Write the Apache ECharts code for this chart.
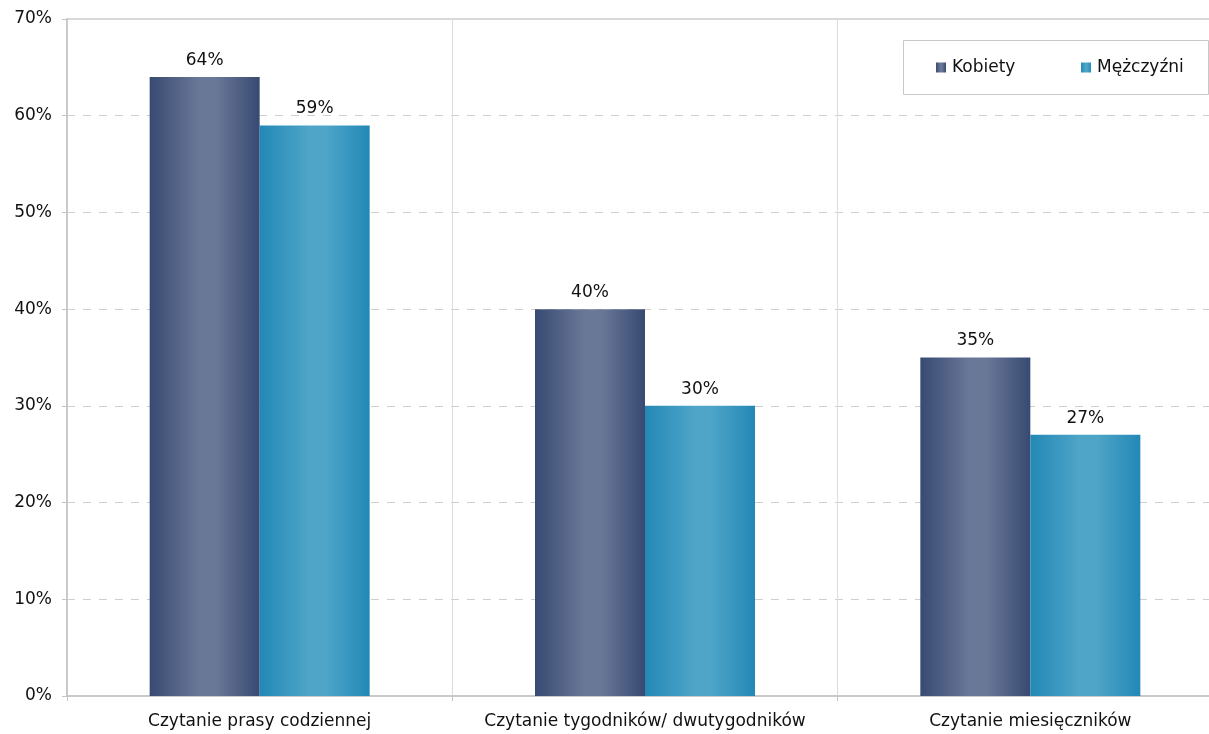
<!DOCTYPE html>
<html>
<head>
<meta charset="utf-8">
<script src="https://cdn.jsdelivr.net/npm/echarts@6/dist/echarts.min.js"></script>
<style>
    html, body { margin: 0; padding: 0; background: #fff; overflow: hidden; }
    #chart { width: 1223px; height: 734px; }
</style>
</head>
<body>
<div id="chart"></div>
<script>
// 数据
const categories = ['Czytanie prasy codziennej', 'Czytanie tygodników/ dwutygodników', 'Czytanie miesięczników'];
const seriesNames = ['Kobiety', 'Mężczyźni'];
const kobiety = [64, 40, 35];
const mezczyzni = [59, 30, 27];
const yTicks = [0, 10, 20, 30, 40, 50, 60, 70];

// 圆柱效果的横向渐变
function barGradient(edge, center) {
    return new echarts.graphic.LinearGradient(0, 0, 1, 0, [
        { offset: 0, color: edge },
        { offset: 0.45, color: center },
        { offset: 0.6, color: center },
        { offset: 1, color: edge }
    ]);
}

document.addEventListener('DOMContentLoaded', function () {
    const chartDom = document.getElementById('chart');
    const myChart = echarts.init(chartDom);
    const font = 'DejaVu Sans, Verdana, sans-serif';
    const fs = 17;

    const labelStyle = {
        show: true,
        position: 'top',
        distance: 8,
        fontSize: fs,
        fontFamily: font,
        color: '#111',
        formatter: '{c}%'
    };

    const legendBase = {
        top: 54,
        icon: 'rect',
        itemWidth: 10,
        itemHeight: 10,
        textStyle: { fontSize: fs, fontFamily: font, color: '#111', padding: [0, 0, 0, 1] }
    };

    const option = {
        backgroundColor: '#fff',
        animation: false,
        textStyle: { fontFamily: font },
        grid: {
            left: 67,
            right: 0,
            top: 19,
            bottom: 38,
            show: true,
            borderColor: '#cccccc',
            borderWidth: 1.5
        },
        legend: [
            Object.assign({ left: 931, data: [seriesNames[0]] }, legendBase),
            Object.assign({ left: 1076, data: [seriesNames[1]] }, legendBase)
        ],
        graphic: [{
            type: 'rect',
            left: 903,
            top: 40,
            shape: { width: 305, height: 54 },
            style: { fill: 'transparent', stroke: '#c8c8c8', lineWidth: 1 },
            z: -1
        }],
        xAxis: {
            type: 'category',
            data: categories,
            axisLine: { lineStyle: { color: '#c4c4c4', width: 1.5 } },
            axisTick: { show: true, interval: 0, length: 5, lineStyle: { color: '#c4c4c4' } },
            axisLabel: { interval: 0, fontSize: fs, fontFamily: font, color: '#111', margin: 17 },
            splitLine: { show: true, interval: 0, lineStyle: { color: '#dcdcdc', width: 1 } }
        },
        yAxis: {
            type: 'value',
            min: yTicks[0],
            max: yTicks[yTicks.length - 1],
            interval: 10,
            axisLine: { show: true, lineStyle: { color: '#c4c4c4', width: 1.5 } },
            axisTick: { show: true, length: 5, lineStyle: { color: '#c4c4c4' } },
            axisLabel: { fontSize: fs, fontFamily: font, color: '#111', margin: 15, formatter: '{value}%' },
            splitLine: {
                show: true,
                showMinLine: false,
                showMaxLine: false,
                lineStyle: { color: '#cfcfcf', type: [8, 8], width: 1 }
            }
        },
        series: [
            {
                name: seriesNames[0],
                type: 'bar',
                data: kobiety,
                barWidth: 110,
                barGap: '0%',
                itemStyle: { color: barGradient('#384a72', '#6a7898') },
                label: labelStyle
            },
            {
                name: seriesNames[1],
                type: 'bar',
                data: mezczyzni,
                barWidth: 110,
                barGap: '0%',
                itemStyle: { color: barGradient('#2388b6', '#4ea5c8') },
                label: labelStyle
            }
        ]
    };

    myChart.setOption(option);
});
</script>
</body>
</html>
